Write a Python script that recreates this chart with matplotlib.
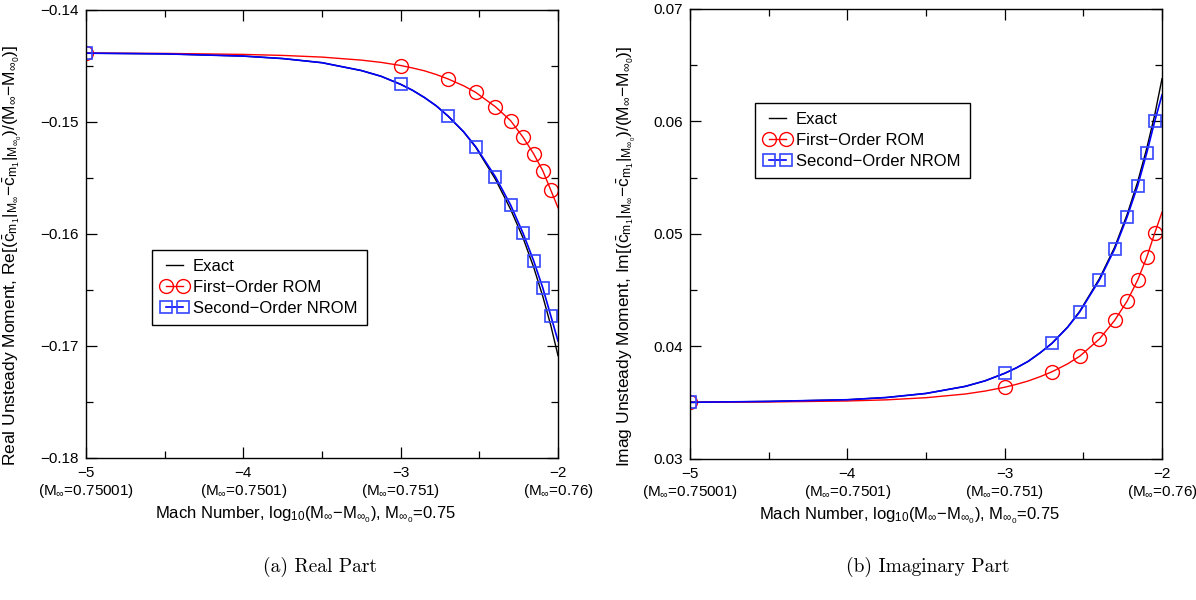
import numpy as np
import matplotlib
matplotlib.use("Agg")
import matplotlib.pyplot as plt
from matplotlib.lines import Line2D
from matplotlib.ticker import MultipleLocator, FuncFormatter

plt.rcParams['font.family'] = ['Liberation Sans', 'DejaVu Sans']
plt.rcParams['mathtext.fontset'] = 'custom'
plt.rcParams['mathtext.rm'] = 'Liberation Sans'
plt.rcParams['mathtext.it'] = 'Liberation Sans:italic'
plt.rcParams['mathtext.bf'] = 'Liberation Sans:bold'
plt.rcParams['font.size'] = 11

# log10(M - M0) sample points
x_pts = [-5, -4.5, -4, -3.75, -3.5, -3.25, -3.125, -3, -2.925, -2.85, -2.775,
         -2.699, -2.6, -2.523, -2.398, -2.301, -2.222, -2.155, -2.097, -2.046, -2]
# points that carry markers (M = 0.75001, 0.751, 0.752, ... 0.759)
x_mark = [-5, -3, -2.699, -2.523, -2.398, -2.301, -2.222, -2.155, -2.097, -2.046]

# real part
re_exact = [-0.14390, -0.14396, -0.14416, -0.14438, -0.14475, -0.14545, -0.14596,
            -0.14668, -0.14721, -0.14785, -0.14859, -0.14952, -0.15093, -0.15230,
            -0.15515, -0.15785, -0.16040, -0.16300, -0.16560, -0.16820, -0.17090]
re_rom1 = [-0.14390, -0.14392, -0.14401, -0.14410, -0.14425, -0.14452, -0.14472,
           -0.14500, -0.14522, -0.14547, -0.14580, -0.14620, -0.14681, -0.14740,
           -0.14868, -0.14993, -0.15141, -0.15288, -0.15439, -0.15612, -0.15770]
re_nrom2 = [-0.14390, -0.14396, -0.14416, -0.14438, -0.14475, -0.14545, -0.14596,
            -0.14668, -0.14721, -0.14785, -0.14859, -0.14951, -0.15091, -0.15225,
            -0.15493, -0.15746, -0.15998, -0.16243, -0.16484, -0.16734, -0.16960]

# imaginary part
im_exact = [0.03500, 0.03508, 0.03523, 0.03543, 0.03579, 0.03642, 0.03691,
            0.03758, 0.03807, 0.03865, 0.03940, 0.04026, 0.04170, 0.04310,
            0.04600, 0.04880, 0.05170, 0.05460, 0.05760, 0.06060, 0.06380]
im_rom1 = [0.03500, 0.03503, 0.03512, 0.03522, 0.03541, 0.03574, 0.03600,
           0.03634, 0.03660, 0.03690, 0.03728, 0.03772, 0.03842, 0.03910,
           0.04063, 0.04229, 0.04400, 0.04587, 0.04791, 0.05007, 0.05191]
im_nrom2 = [0.03500, 0.03508, 0.03523, 0.03543, 0.03579, 0.03642, 0.03691,
            0.03758, 0.03807, 0.03865, 0.03940, 0.04025, 0.04167, 0.04304,
            0.04588, 0.04864, 0.05149, 0.05425, 0.05719, 0.06003, 0.06235]

x_ticks = [-5, -4, -3, -2]
x_mach = ['0.75001', '0.7501', '0.751', '0.76']
re_ticks = [-0.18, -0.17, -0.16, -0.15, -0.14]
im_ticks = [0.03, 0.04, 0.05, 0.06, 0.07]

ylab_re = (r'Real Unsteady Moment, Re[($\bar{\mathrm{c}}_{\mathrm{m}_1}|_{\mathrm{M}_\infty}$'
           r'$-\bar{\mathrm{c}}_{\mathrm{m}_1}|_{\mathrm{M}_{\infty_0}}$)/(M$_\infty$$-$M$_{\infty_0}$)]')
ylab_im = (r'Imag Unsteady Moment, Im[($\bar{\mathrm{c}}_{\mathrm{m}_1}|_{\mathrm{M}_\infty}$'
           r'$-\bar{\mathrm{c}}_{\mathrm{m}_1}|_{\mathrm{M}_{\infty_0}}$)/(M$_\infty$$-$M$_{\infty_0}$)]')
xlab = r'Mach Number, log$_{10}$(M$_\infty$$-$M$_{\infty_0}$), M$_{\infty_0}$=0.75'

mark_idx = [x_pts.index(v) for v in x_mark]
red_kw = dict(color='red', lw=1.0, marker='o', markersize=10, markerfacecolor='none',
              markeredgecolor='red', markeredgewidth=1.0)
blue_kw = dict(color='blue', lw=1.2, marker='s', markersize=9, markerfacecolor='none',
               markeredgecolor='#3344ff', markeredgewidth=1.2)


def style_axes(ax, yticks, ylabel, ylab_x):
    ax.set_xlim(-5, -2)
    ax.set_ylim(yticks[0], yticks[-1])
    ax.set_xticks(x_ticks)
    ax.set_xticklabels(['\u2212%d\n(M$_\\infty$=%s)' % (-t, m) for t, m in zip(x_ticks, x_mach)],
                       linespacing=1.2)
    ax.set_yticks(yticks)
    ax.yaxis.set_major_formatter(FuncFormatter(lambda v, p: ('%.2f' % v).replace('-', '\u2212')))
    ax.xaxis.set_minor_locator(MultipleLocator(0.5))
    ax.yaxis.set_minor_locator(MultipleLocator(0.005))
    ax.tick_params(which='both', direction='in', top=True, right=True, width=0.9)
    ax.tick_params(which='major', length=8)
    ax.tick_params(axis='x', which='major', pad=6)
    ax.tick_params(axis='y', which='major', pad=5)
    ax.tick_params(which='minor', length=5)
    for s in ax.spines.values():
        s.set_linewidth(1.0)
    ax.set_ylabel(ylabel, fontsize=12.5)
    ax.yaxis.set_label_coords(ylab_x, 0.45)
    ax.set_xlabel(xlab, fontsize=12)
    ax.xaxis.set_label_coords(0.465, -0.105)


def draw(ax, exact, rom1, nrom2):
    ax.plot(x_pts, exact, color='black', lw=1.0)
    ax.plot(x_pts, rom1, markevery=mark_idx, **red_kw)
    ax.plot(x_pts, nrom2, markevery=mark_idx, **blue_kw)


fig = plt.figure(figsize=(11.96, 6.0), dpi=100)
ax1 = fig.add_axes([86 / 1196, 142.5 / 600, 472 / 1196, 448 / 600])
ax2 = fig.add_axes([690 / 1196, 141.5 / 600, 472 / 1196, 449.5 / 600])

draw(ax1, re_exact, re_rom1, re_nrom2)
draw(ax2, im_exact, im_rom1, im_nrom2)
style_axes(ax1, re_ticks, ylab_re, -0.131)
style_axes(ax2, im_ticks, ylab_im, -0.110)

handles = [Line2D([], [], color='black', lw=1.0),
           Line2D([], [], **red_kw),
           Line2D([], [], **blue_kw)]
labels = ['Exact', 'First\u2212Order ROM', 'Second\u2212Order NROM']
leg_kw = dict(numpoints=2, handlelength=1.6, handletextpad=0.3, labelspacing=0.35,
              borderpad=0.55, borderaxespad=0, fancybox=False, framealpha=1,
              edgecolor='black', fontsize=12)
l1 = ax1.legend(handles, labels, loc='upper left', bbox_to_anchor=(0.14, 0.463), **leg_kw)
l2 = ax2.legend(handles, labels, loc='upper left', bbox_to_anchor=(0.138, 0.791), **leg_kw)
for lg in (l1, l2):
    lg.get_frame().set_linewidth(1.0)

fig.text(320 / 1196, 1 - 567 / 600, '(a) Real Part', ha='center', va='center',
         fontfamily='cmr10', fontsize=14)
fig.text(928 / 1196, 1 - 567 / 600, '(b) Imaginary Part', ha='center', va='center',
         fontfamily='cmr10', fontsize=14)

fig.savefig('out.png', dpi=100)
